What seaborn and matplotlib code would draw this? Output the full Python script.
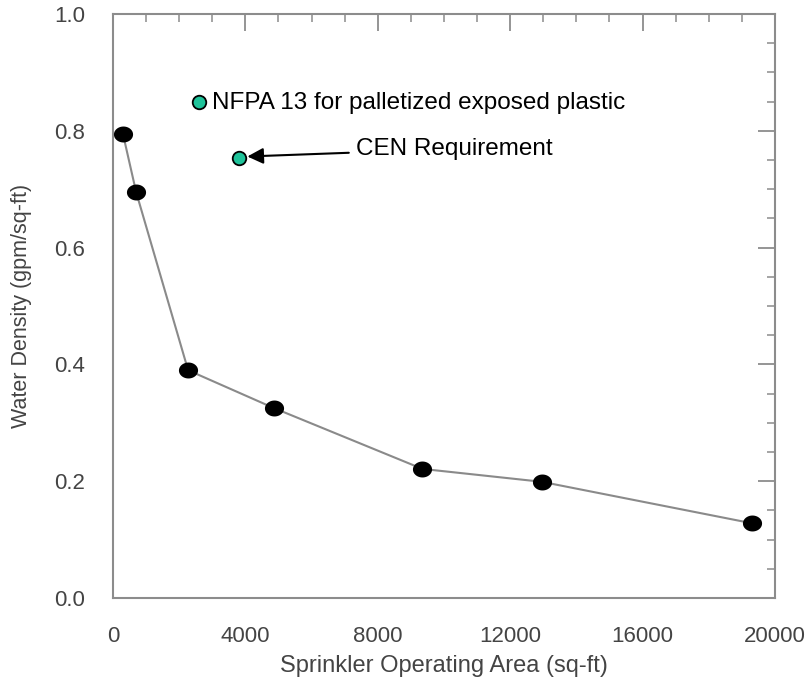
import matplotlib
matplotlib.use("Agg")
import matplotlib.pyplot as plt
import seaborn as sns
import numpy as np
import pandas as pd
from matplotlib.ticker import MultipleLocator, FormatStrFormatter
from matplotlib.path import Path

sns.set_style("white")
plt.rcParams['font.family'] = ['Liberation Sans', 'DejaVu Sans']

# Sprinkler curve data
area = [300, 700, 2270, 4870, 9350, 12950, 19300]
density = [0.795, 0.695, 0.390, 0.325, 0.221, 0.199, 0.128]

# Reference requirements
nfpa_area = [2600]
nfpa_density = [0.85]
cen_area = [3800]
cen_density = [0.753]

data = pd.DataFrame({'area': area, 'density': density})

# slightly wide ellipse marker
t = np.linspace(0, 2 * np.pi, 60)
ellipse = Path(np.column_stack([1.2 * np.cos(t), np.sin(t)]))

fig = plt.figure(figsize=(8.11, 6.93), dpi=100)
ax = fig.add_axes([0.1393, 0.1371, 0.8163, 0.8427])

sns.lineplot(data=data, x='area', y='density', color='#8a8a8a', linewidth=1.5, ax=ax)
ax.scatter(area, density, s=190, c='black', marker=ellipse, zorder=3, linewidths=0)

ax.scatter(nfpa_area, nfpa_density, s=95, c='#1fc39a', marker='o',
           edgecolors='black', linewidths=1.3, zorder=4)
ax.scatter(cen_area, cen_density, s=95, c='#1fc39a', marker='o',
           edgecolors='black', linewidths=1.3, zorder=4)

ax.text(nfpa_area[0] + 400, nfpa_density[0] - 0.002,
        'NFPA 13 for palletized exposed plastic',
        fontsize=17.5, va='center', ha='left', color='black')
ax.annotate('CEN Requirement', xy=(cen_area[0] + 260, cen_density[0] + 0.003),
            xytext=(7350, cen_density[0] + 0.016), fontsize=17.5, va='center',
            ha='left', color='black',
            arrowprops=dict(arrowstyle='-|>', color='black', lw=1.5,
                            mutation_scale=24, shrinkA=3, shrinkB=0))

ax.set_xlim(0, 20000)
ax.set_ylim(0, 1.0)
ax.xaxis.set_major_locator(MultipleLocator(4000))
ax.xaxis.set_minor_locator(MultipleLocator(1000))
ax.yaxis.set_major_locator(MultipleLocator(0.2))
ax.yaxis.set_minor_locator(MultipleLocator(0.05))
ax.yaxis.set_major_formatter(FormatStrFormatter('%.1f'))

for s in ax.spines.values():
    s.set_color('#8c8c8c')
    s.set_linewidth(1.5)

tick_color = '#8c8c8c'
ax.tick_params(which='both', direction='out', colors=tick_color, labelcolor='#444444',
               labelsize=16, top=False, right=False)
ax.tick_params(which='major', length=12, width=1.3)
ax.tick_params(which='minor', length=6, width=1.1)
ax.tick_params(axis='x', pad=8)
ax.tick_params(axis='y', pad=8)

# inward ticks on top and right
top = ax.secondary_xaxis('top')
top.xaxis.set_major_locator(MultipleLocator(4000))
top.xaxis.set_minor_locator(MultipleLocator(1000))
top.tick_params(which='both', direction='in', colors=tick_color, labeltop=False)
top.tick_params(which='major', length=12, width=1.3)
top.tick_params(which='minor', length=6, width=1.1)
top.spines['top'].set_visible(False)

right = ax.secondary_yaxis('right')
right.yaxis.set_major_locator(MultipleLocator(0.2))
right.yaxis.set_minor_locator(MultipleLocator(0.05))
right.tick_params(which='both', direction='in', colors=tick_color, labelright=False)
right.tick_params(which='major', length=12, width=1.3)
right.tick_params(which='minor', length=6, width=1.1)
right.spines['right'].set_visible(False)

ax.set_xlabel('Sprinkler Operating Area (sq-ft)', fontsize=17, color='#444444', labelpad=6)
ax.set_ylabel('Water Density (gpm/sq-ft)', fontsize=15.5, color='#444444', labelpad=16)

fig.savefig('out.png', dpi=100)
